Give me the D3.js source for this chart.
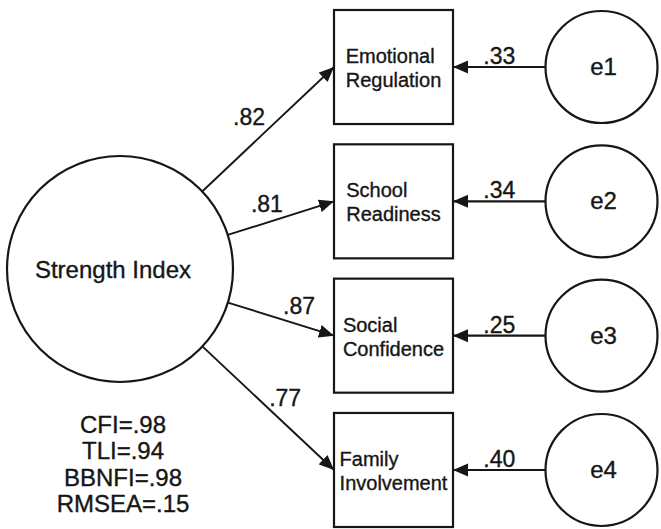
<!DOCTYPE html>
<html>
<head>
<meta charset="utf-8">
<script src="https://cdn.jsdelivr.net/npm/d3@7"></script>
<style>
  html, body { margin: 0; padding: 0; background: #fff; }
  svg { display: block; font-family: "Liberation Sans", Arial, sans-serif; }
  svg text { stroke: #161616; stroke-width: 0.35px; }
</style>
</head>
<body>
<svg id="chart" width="661" height="529"></svg>
<script>
// ---------------------------------------------------------------------------
// Model values
// ---------------------------------------------------------------------------

const latentName = 'Strength Index';
const indicators = ['Emotional Regulation', 'School Readiness', 'Social Confidence', 'Family Involvement'];
const indicatorLines = [
  ['Emotional', 'Regulation'],
  ['School', 'Readiness'],
  ['Social', 'Confidence'],
  ['Family', 'Involvement']
];
const loadings = [0.82, 0.81, 0.87, 0.77];
const errorNames = ['e1', 'e2', 'e3', 'e4'];
const errorWeights = [0.33, 0.34, 0.25, 0.40];
const fitNames = ['CFI', 'TLI', 'BBNFI', 'RMSEA'];
const fitValues = [0.98, 0.94, 0.98, 0.15];

// ---------------------------------------------------------------------------
// Layout
// ---------------------------------------------------------------------------

const W = 661, H = 529;
const LATENT = { cx: 120, cy: 269, r: 113 };
const BOX_X = 334, BOX_W = 119;
const ERR_CX = 601.5, ERR_R = 56;
const INK = '#161616';

// where each loading label sits along its arrow (fraction, px above the line)
const LOAD_LABEL_T = [0.47, 0.42, 0.62, 0.53];
const LOAD_LABEL_OFF = [22, 18, 18, 19];

const fmt = v => d3.format('.2f')(v).replace(/^0/, '');

const svg = d3.select('#chart');

svg.append('defs').append('marker')
  .attr('id', 'head')
  .attr('markerUnits', 'userSpaceOnUse')
  .attr('viewBox', '0 -7 15 14')
  .attr('refX', 15).attr('refY', 0)
  .attr('markerWidth', 15).attr('markerHeight', 14)
  .attr('orient', 'auto')
  .append('path')
  .attr('d', 'M0,-6.5L15,0L0,6.5Z')
  .attr('fill', INK);

const y = d3.scaleBand()
  .domain(indicators)
  .range([10, 527])
  .paddingInner(0.151)
  .paddingOuter(0);

const rowY = name => y(name) + y.bandwidth() / 2;

// ---------------------------------------------------------------------------
// Latent variable
// ---------------------------------------------------------------------------

svg.append('circle')
  .attr('cx', LATENT.cx).attr('cy', LATENT.cy).attr('r', LATENT.r)
  .attr('fill', '#fff').attr('stroke', INK).attr('stroke-width', 2.2);

svg.append('text')
  .attr('x', LATENT.cx - 7).attr('y', LATENT.cy + 9)
  .attr('text-anchor', 'middle')
  .attr('font-size', 24).attr('fill', INK)
  .text(latentName);

// ---------------------------------------------------------------------------
// Loadings: latent -> indicator
// ---------------------------------------------------------------------------

indicators.forEach((name, i) => {
  const ex = BOX_X, ey = rowY(name);
  const dx = ex - LATENT.cx, dy = ey - LATENT.cy;
  const len = Math.hypot(dx, dy);
  const sx = LATENT.cx + LATENT.r * dx / len;
  const sy = LATENT.cy + LATENT.r * dy / len;

  svg.append('line')
    .attr('x1', sx).attr('y1', sy).attr('x2', ex).attr('y2', ey)
    .attr('stroke', INK).attr('stroke-width', 1.9)
    .attr('marker-end', 'url(#head)');

  // label: point along the arrow, pushed off to the upper side
  const ax = ex - sx, ay = ey - sy, al = Math.hypot(ax, ay);
  const ux = ax / al, uy = ay / al;
  let nx = uy, ny = -ux;
  if (ny > 0) { nx = -nx; ny = -ny; }
  const t = LOAD_LABEL_T[i];
  const lx = sx + ax * t + nx * LOAD_LABEL_OFF[i];
  const ly = sy + ay * t + ny * LOAD_LABEL_OFF[i];

  svg.append('text')
    .attr('x', lx).attr('y', ly + 8)
    .attr('text-anchor', 'middle')
    .attr('font-size', 23).attr('fill', INK)
    .text(fmt(loadings[i]));
});

// ---------------------------------------------------------------------------
// Indicator boxes
// ---------------------------------------------------------------------------

indicators.forEach((name, i) => {
  const top = y(name), cy = rowY(name);
  svg.append('rect')
    .attr('x', BOX_X).attr('y', top)
    .attr('width', BOX_W).attr('height', y.bandwidth())
    .attr('fill', '#fff').attr('stroke', INK).attr('stroke-width', 2.2);

  const txt = svg.append('text')
    .attr('font-size', 20).attr('fill', INK);
  const spans = indicatorLines[i].map((line, k) =>
    txt.append('tspan').attr('y', cy - 4 + k * 24).text(line));
  const maxW = d3.max(spans, s => s.node().getComputedTextLength());
  const x0 = BOX_X + BOX_W / 2 - maxW / 2;
  spans.forEach(s => s.attr('x', x0));
});

// ---------------------------------------------------------------------------
// Error terms
// ---------------------------------------------------------------------------

errorNames.forEach((e, i) => {
  const cy = rowY(indicators[i]);

  svg.append('line')
    .attr('x1', ERR_CX - ERR_R).attr('y1', cy)
    .attr('x2', BOX_X + BOX_W).attr('y2', cy)
    .attr('stroke', INK).attr('stroke-width', 2.2)
    .attr('marker-end', 'url(#head)');

  svg.append('text')
    .attr('x', (ERR_CX - ERR_R + BOX_X + BOX_W) / 2).attr('y', cy - 3)
    .attr('text-anchor', 'middle')
    .attr('font-size', 23).attr('fill', INK)
    .text(fmt(errorWeights[i]));

  svg.append('circle')
    .attr('cx', ERR_CX).attr('cy', cy).attr('r', ERR_R)
    .attr('fill', '#fff').attr('stroke', INK).attr('stroke-width', 2.2);

  svg.append('text')
    .attr('x', ERR_CX + 2).attr('y', cy + 8)
    .attr('text-anchor', 'middle')
    .attr('font-size', 24).attr('fill', INK)
    .text(e);
});

// ---------------------------------------------------------------------------
// Fit statistics
// ---------------------------------------------------------------------------

svg.append('g')
  .selectAll('text')
  .data(fitNames)
  .join('text')
  .attr('x', 123)
  .attr('y', (d, i) => 433 + i * 26.3)
  .attr('text-anchor', 'middle')
  .attr('font-size', 24).attr('fill', INK)
  .text((d, i) => `${d}=${fmt(fitValues[i])}`);
</script>
</body>
</html>
